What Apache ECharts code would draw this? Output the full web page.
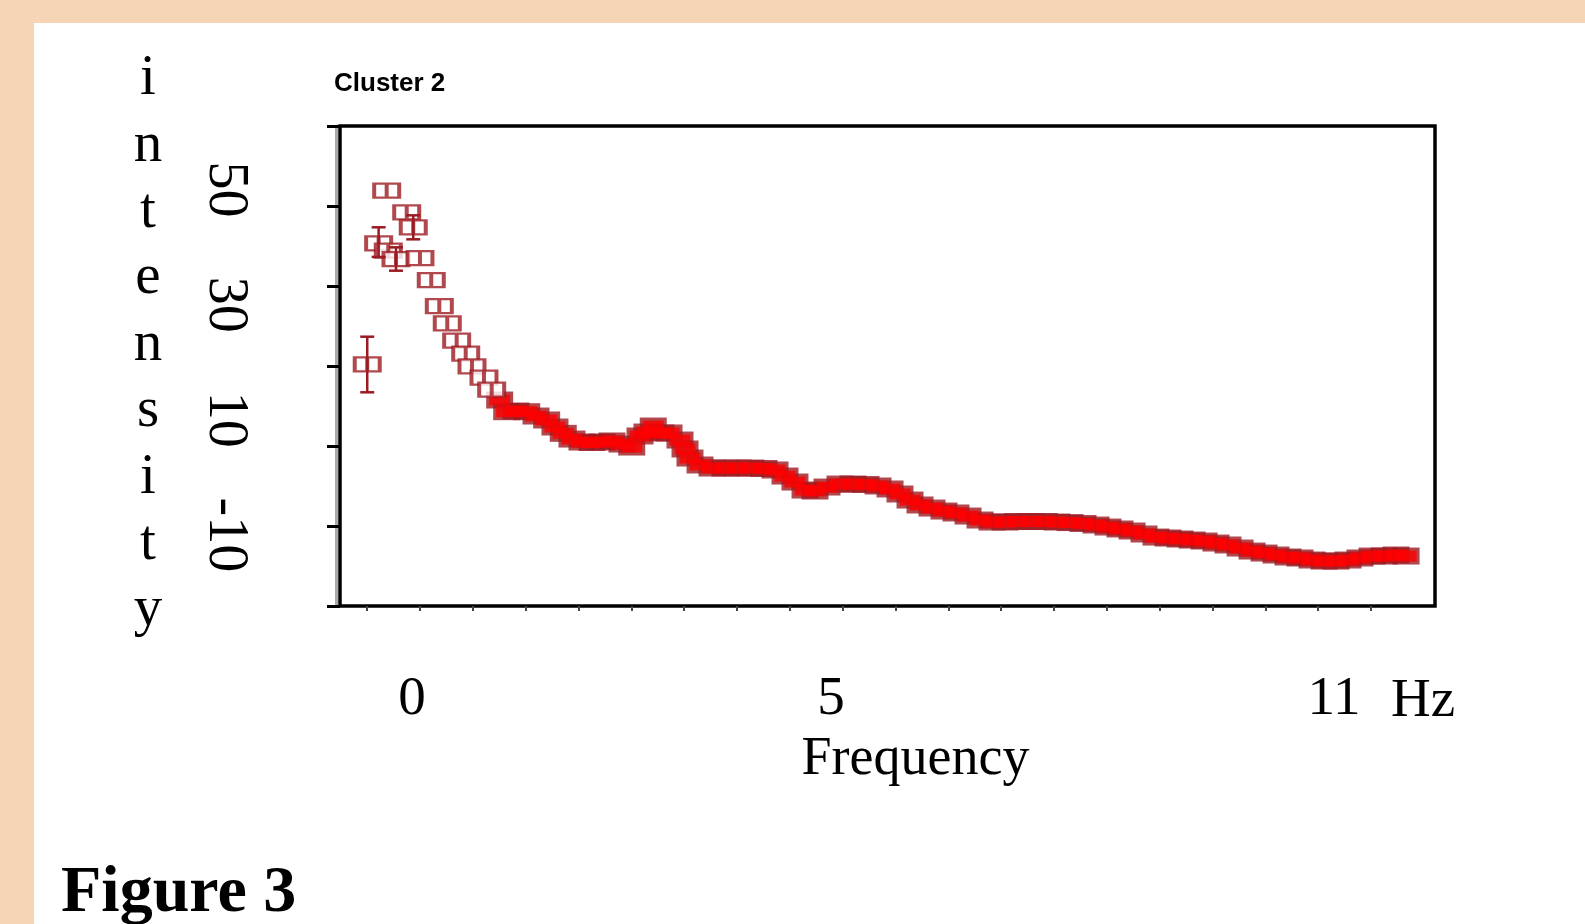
<!DOCTYPE html>
<html>
<head>
<meta charset="utf-8">
<title>Cluster 2</title>
<script src="https://cdn.jsdelivr.net/npm/echarts@6/dist/echarts.min.js"></script>
<style>
  html, body { margin: 0; padding: 0; background: #f5d5b6; }
  #panel { position: absolute; left: 34px; top: 23px; right: 0; bottom: 0; background: #fff; }
  #chart { position: absolute; left: 0; top: 0; width: 1585px; height: 924px; }
</style>
</head>
<body>
<div id="panel"></div>
<div id="chart"></div>
<script>
// frequency (Hz) and intensity of each marker
var freq = [
  -0.535, -0.399, -0.303, -0.284, -0.192, -0.064, 0.014, 0.094, 0.229, 0.325,
  0.420, 0.532, 0.640, 0.715, 0.858, 0.950, 1.045, 1.129, 1.240, 1.368,
  1.479, 1.606, 1.705, 1.804, 1.908, 2.027, 2.147, 2.266, 2.385, 2.505,
  2.621, 2.720, 2.803, 2.878, 2.970, 3.066, 3.197, 3.257, 3.316, 3.436,
  3.579, 3.734, 3.889, 4.044, 4.199, 4.331, 4.450, 4.569, 4.689, 4.808,
  4.951, 5.106, 5.261, 5.416, 5.560, 5.703, 5.822, 5.942, 6.061, 6.204,
  6.347, 6.490, 6.634, 6.777, 6.920, 7.075, 7.230, 7.385, 7.541, 7.696,
  7.851, 8.006, 8.161, 8.304, 8.447, 8.591, 8.734, 8.877, 9.020, 9.164,
  9.307, 9.450, 9.593, 9.736, 9.880, 10.023, 10.166, 10.309, 10.452, 10.595,
  10.739, 10.882, 11.025, 11.168, 11.311, 11.455, 11.598, 11.741, 11.861
];
var intensity = [
  19.64, 40.67, 49.81, 39.38, 37.94, 46.06, 43.45, 38.11, 34.29, 29.77,
  26.77, 23.74, 21.49, 19.30, 17.32, 15.23, 13.44, 11.41, 11.53, 11.41,
  10.66, 9.97, 8.75, 7.65, 6.66, 6.14, 6.06, 6.14, 6.32, 5.79,
  5.27, 7.19, 7.88, 8.92, 7.71, 7.71, 6.49, 4.93, 3.36, 2.15,
  1.62, 1.62, 1.62, 1.62, 1.54, 1.28, 0.23, -0.81, -2.20, -2.37,
  -1.68, -1.16, -1.16, -1.24, -1.50, -2.02, -2.89, -3.94, -4.80, -5.33,
  -5.85, -6.19, -6.72, -7.41, -7.76, -7.76, -7.67, -7.67, -7.67, -7.76,
  -7.85, -8.02, -8.28, -8.63, -8.97, -9.32, -9.84, -10.37, -10.54, -10.71,
  -10.89, -11.06, -11.41, -11.75, -12.28, -12.80, -13.15, -13.49, -13.84, -14.01,
  -14.36, -14.54, -14.54, -14.36, -14.01, -13.67, -13.67, -13.49, -13.67
];

// error bars on the first markers
var errFreq = [-0.535, -0.399, -0.192, 0.014];
var errLow  = [14.78, 38.30, 35.91, 41.36];
var errHigh = [24.44, 43.45, 39.97, 45.53];

// tick labels
var xTickLabels = [0, 5, 11];
var yTickLabels = [50, 30, 10, -10];
var xMinorTicks = [0, 1, 2, 3, 4, 5, 6, 7, 8, 9, 10, 11, 12, 13, 14, 15, 16, 17, 18, 19];

var hollowCount = 16;
var darkRed = '#9c1a22';
var serif = '"Liberation Serif", "Times New Roman", serif';

var chart = echarts.init(document.getElementById('chart'));

var points = freq.map(function (f, i) { return [f, intensity[i]]; });
var errData = errFreq.map(function (f, i) { return [f, errLow[i], errHigh[i]]; });

var option = {
    animation: false,
    backgroundColor: 'transparent',
    title: {
        text: 'Cluster 2',
        left: 334,
        top: 71,
        padding: 0,
        textStyle: { fontSize: 26, fontWeight: 'bold', fontFamily: '"Liberation Sans", Arial, sans-serif', color: '#000' }
    },
    grid: {
        left: 340, right: 150, top: 126, bottom: 318,
        show: true,
        borderColor: '#000',
        borderWidth: 3.5,
        outerBoundsMode: 'none'
    },
    xAxis: [
        {
            type: 'value',
            position: 'bottom',
            min: -0.86,
            max: 12.206,
            axisLine: { show: false, onZero: false },
            axisTick: { show: false },
            splitLine: { show: false },
            axisLabel: {
                customValues: xTickLabels,
                fontSize: 55,
                fontFamily: serif,
                color: '#000',
                margin: 66
            },
            name: 'Frequency',
            nameLocation: 'middle',
            nameGap: 127,
            nameTextStyle: { fontSize: 54, fontFamily: serif, color: '#000', padding: [0, 0, 0, 56] }
        },
        {
            type: 'value',
            position: 'bottom',
            min: -0.515,
            max: 20.21,
            axisLine: { show: false, onZero: false },
            axisTick: {
                customValues: xMinorTicks,
                length: 5,
                lineStyle: { color: '#444', width: 2 }
            },
            axisLabel: { show: false },
            splitLine: { show: false }
        }
    ],
    yAxis: [
        {
            type: 'value',
            position: 'left',
            offset: 4,
            min: -22.35,
            max: 61.05,
            axisLine: { show: true, onZero: false, lineStyle: { color: '#aaa', width: 3 } },
            axisTick: { show: false },
            splitLine: { show: false },
            axisLabel: {
                customValues: yTickLabels,
                rotate: -90,
                fontSize: 56,
                fontFamily: serif,
                color: '#000',
                margin: 83
            }
        },
        {
            type: 'value',
            position: 'left',
            min: 0,
            max: 6,
            interval: 1,
            axisLine: { show: false, onZero: false },
            axisTick: { length: 13, lineStyle: { color: '#000', width: 3 } },
            axisLabel: { show: false },
            splitLine: { show: false }
        }
    ],
    graphic: [
        {
            // y axis title, one letter per line
            type: 'text',
            x: 148,
            y: 46,
            style: {
                text: 'i\nn\nt\ne\nn\ns\ni\nt\ny',
                fontSize: 57,
                fontFamily: serif,
                lineHeight: 66.4,
                align: 'center',
                verticalAlign: 'top',
                fill: '#000'
            }
        },
        {
            type: 'text',
            left: 61,
            top: 861,
            style: { text: 'Figure 3', font: 'bold 66px ' + serif, fill: '#000' }
        },
        {
            type: 'text',
            left: 1391,
            top: 674,
            style: { text: 'Hz', font: '55px ' + serif, fill: '#000' }
        }
    ],
    series: [
        {
            name: 'edge',
            type: 'scatter',
            xAxisIndex: 0,
            yAxisIndex: 0,
            data: points.slice(hollowCount),
            symbol: 'rect',
            symbolSize: [27, 17],
            itemStyle: { color: darkRed },
            silent: true,
            z: 2
        },
        {
            name: 'core',
            type: 'scatter',
            xAxisIndex: 0,
            yAxisIndex: 0,
            data: points.slice(hollowCount),
            symbol: 'rect',
            symbolSize: [21, 11],
            itemStyle: { color: '#ff0000' },
            silent: true,
            z: 3
        },
        {
            name: 'hollow',
            type: 'scatter',
            xAxisIndex: 0,
            yAxisIndex: 0,
            data: points.slice(0, hollowCount),
            symbol: 'path://M0,0L26,0L26,14L0,14ZM13,0L13,14',
            symbolSize: [25, 14],
            itemStyle: { color: '#fff', borderColor: darkRed, borderWidth: 3 },
            silent: true,
            z: 4
        },
        {
            name: 'error',
            type: 'custom',
            xAxisIndex: 0,
            yAxisIndex: 0,
            data: errData,
            encode: { x: 0, y: [1, 2] },
            silent: true,
            z: 5,
            renderItem: function (params, api) {
                var hi = api.coord([api.value(0), api.value(2)]);
                var lo = api.coord([api.value(0), api.value(1)]);
                var cap = 7;
                var style = { stroke: darkRed, lineWidth: 2.5 };
                return {
                    type: 'group',
                    children: [
                        { type: 'line', shape: { x1: hi[0], y1: hi[1], x2: lo[0], y2: lo[1] }, style: style },
                        { type: 'line', shape: { x1: hi[0] - cap, y1: hi[1], x2: hi[0] + cap, y2: hi[1] }, style: style },
                        { type: 'line', shape: { x1: lo[0] - cap, y1: lo[1], x2: lo[0] + cap, y2: lo[1] }, style: style }
                    ]
                };
            }
        }
    ]
};

chart.setOption(option);
</script>
</body>
</html>
